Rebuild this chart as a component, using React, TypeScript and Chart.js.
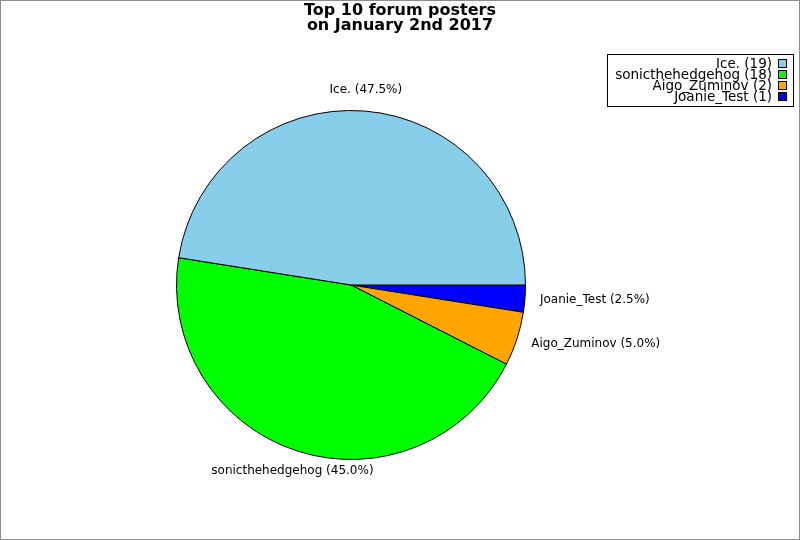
import React, { useEffect, useRef } from "react";
import { Chart, registerables } from "chart.js";

Chart.register(...registerables);

const titleLines = ["Top 10 forum posters", "on January 2nd 2017"];
const posters = ["Ice.", "sonicthehedgehog", "Aigo_Zuminov", "Joanie_Test"];
const posts = [19, 18, 2, 1];
const colors = ["#87CEEB", "#00FF00", "#FFA500", "#0000FF"];

const FONT = "'DejaVu Sans', sans-serif";

const overlay = {
  id: "overlay",
  afterDraw(chart: any) {
    const ctx = chart.ctx as CanvasRenderingContext2D;
    const W = chart.width;
    const H = chart.height;
    ctx.save();
    // outer border
    ctx.strokeStyle = "#8c8c8c";
    ctx.lineWidth = 1;
    ctx.strokeRect(0.5, 0.5, W - 1, H - 1);

    // title
    ctx.fillStyle = "#000";
    ctx.font = `bold 16px ${FONT}`;
    ctx.textAlign = "center";
    ctx.textBaseline = "middle";
    titleLines.forEach((t, i) => ctx.fillText(t, 400, 11 + i * 14.5));

    // slice labels
    const total = posts.reduce((a, b) => a + b, 0);
    const meta = chart.getDatasetMeta(0);
    const n = posters.length;
    ctx.font = `12px ${FONT}`;
    ctx.fillStyle = "#000";
    meta.data.forEach((arc: any, j: number) => {
      const i = n - 1 - j;
      const mid = (arc.startAngle + arc.endAngle) / 2;
      const r = arc.outerRadius + 15;
      const px = arc.x + Math.cos(mid) * r;
      const py = arc.y + Math.sin(mid) * r;
      const c = Math.cos(mid);
      const s = Math.sin(mid);
      ctx.textAlign = Math.abs(c) < 0.5 ? "center" : c > 0 ? "left" : "right";
      ctx.textBaseline = s < -0.5 ? "bottom" : s > 0.5 ? "top" : "middle";
      const pct = ((posts[i] / total) * 100).toFixed(1);
      ctx.fillText(`${posters[i]} (${pct}%)`, px, py);
    });

    // legend
    const lx = 607.5, ly = 54.5, lw = 186, lh = 52;
    ctx.fillStyle = "#fff";
    ctx.fillRect(lx, ly, lw, lh);
    ctx.strokeStyle = "#000";
    ctx.strokeRect(lx, ly, lw, lh);
    ctx.font = `13.5px ${FONT}`;
    ctx.textAlign = "right";
    ctx.textBaseline = "middle";
    posters.forEach((p, i) => {
      const y = 64 + i * 11;
      ctx.fillStyle = "#000";
      ctx.fillText(`${p} (${posts[i]})`, 772, y);
      ctx.fillStyle = colors[i];
      ctx.fillRect(778.5, y - 4.5, 8, 8);
      ctx.strokeStyle = "#000";
      ctx.strokeRect(778.5, y - 4.5, 8, 8);
    });
    ctx.restore();
  },
};

export default function App() {
  const ref = useRef<HTMLCanvasElement>(null);
  useEffect(() => {
    document.body.style.margin = "0";
    const canvas = ref.current!;
    const rev = (a: any[]) => a.slice().reverse();
    const chart = new Chart(canvas, {
      type: "pie",
      data: {
        labels: rev(posters),
        datasets: [
          {
            data: rev(posts),
            backgroundColor: rev(colors),
            borderColor: "#000",
            borderWidth: 1,
          },
        ],
      },
      options: {
        responsive: false,
        animation: false,
        devicePixelRatio: 1,
        rotation: 90,
        layout: { padding: { left: 176, right: 274, top: 110, bottom: 80 } },
        plugins: {
          legend: { display: false },
          title: { display: false },
          tooltip: { enabled: false },
        },
      },
      plugins: [overlay],
    });
    return () => chart.destroy();
  }, []);
  return <canvas ref={ref} width={800} height={540} style={{ display: "block" }} />;
}
